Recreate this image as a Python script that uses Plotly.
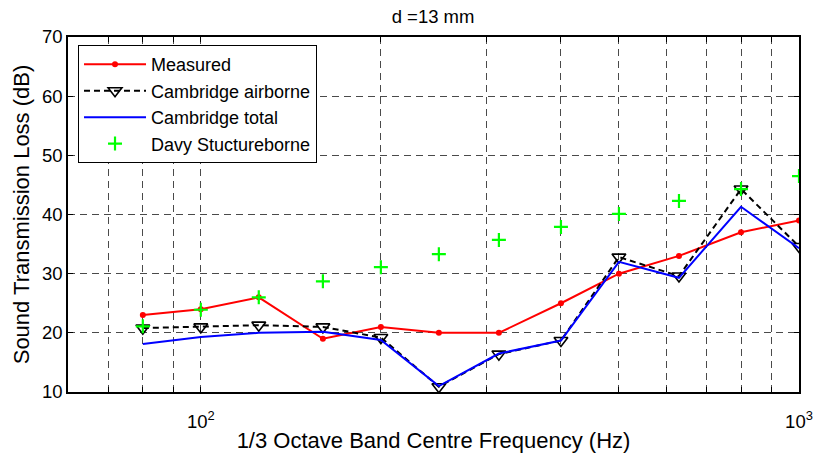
import plotly.graph_objects as go

# 1/3 octave band centre frequencies (Hz)
freq = [80, 100, 125, 160, 200, 250, 315, 400, 500, 630, 800, 1000]

# sound transmission loss (dB)
measured = [23, 24, 26, 19, 21, 20, 20, 25, 30, 33, 37, 39]
cambridge_airborne = [20.8, 21.0, 21.3, 21.0, 19.2, 10.9, 16.4, 18.7, 32.8, 29.6, 44.3, 34.6]
cambridge_total = [18.1, 19.3, 20.0, 20.2, 18.8, 11.0, 16.5, 18.7, 32.0, 29.3, 41.3, 34.3]
davy_structureborne = [21.1, 23.9, 26.0, 28.7, 31.1, 33.3, 35.7, 37.9, 40.1, 42.3, 44.3, 46.5]

names = ["Measured", "Cambridge airborne", "Cambridge total", "Davy Stuctureborne"]

# decade ticks get a label, the rest are minor grid lines
x_major = [100, 1000]
x_major_text = ["10<sup>2</sup>", "10<sup>3</sup>"]
x_minor = [60, 70, 80, 90, 200, 300, 400, 500, 600, 700, 800, 900]

font = "Liberation Sans, Arial, sans-serif"
fs = 18.5
grid_col = "#4a4a4a"
grid_dash = "7px,5px"

fig = go.Figure()

fig.add_trace(go.Scatter(
    x=freq, y=measured, name=names[0], mode="lines+markers",
    line=dict(color="#ff0000", width=2),
    marker=dict(symbol="circle", size=6, color="#ff0000"),
))
fig.add_trace(go.Scatter(
    x=freq, y=cambridge_airborne, name=names[1], mode="lines+markers",
    line=dict(color="black", width=2, dash="6px,4px"),
    marker=dict(symbol="triangle-down-open", size=12, color="black", line=dict(width=1.6)),
))
fig.add_trace(go.Scatter(
    x=freq, y=cambridge_total, name=names[2], mode="lines",
    line=dict(color="#0000ff", width=2),
))
fig.add_trace(go.Scatter(
    x=freq, y=davy_structureborne, name=names[3], mode="markers",
    marker=dict(symbol="cross-thin", size=10, color="#00ff00", line=dict(color="#00ff00", width=2.2)),
))

fig.update_layout(
    width=814, height=459,
    margin=dict(l=68, r=15, t=37, b=67),
    paper_bgcolor="white", plot_bgcolor="white",
    font=dict(family=font, size=fs, color="black"),
    title=dict(text="d =13 mm", x=0.532, xanchor="center", y=0.965, yanchor="middle",
               font=dict(size=fs)),
    legend=dict(
        x=0.0137, y=0.977, xanchor="left", yanchor="top",
        bordercolor="black", borderwidth=1, bgcolor="white",
        font=dict(size=18), itemwidth=62, tracegroupgap=0,
    ),
)

fig.update_xaxes(
    type="log", range=[1.778, 3], automargin=False,
    tickvals=x_major, ticktext=x_major_text,
    ticks="inside", ticklen=5, tickcolor="black", ticklabelstandoff=12,
    minor=dict(tickvals=x_minor, ticks="inside", ticklen=5, tickcolor="black",
               showgrid=True, gridcolor=grid_col, griddash=grid_dash, gridwidth=1),
    showline=True, linecolor="black", linewidth=1.5, mirror="ticks",
    showgrid=True, gridcolor=grid_col, griddash=grid_dash, gridwidth=1,
    zeroline=False,
    title=dict(text="1/3 Octave Band Centre Frequency (Hz)", standoff=2),
)
fig.update_yaxes(
    range=[10, 70], dtick=10, automargin=False,
    ticks="inside", ticklen=5, tickcolor="black",
    showline=True, linecolor="black", linewidth=1.5, mirror="ticks",
    showgrid=True, gridcolor=grid_col, griddash=grid_dash, gridwidth=1,
    zeroline=False,
    title=dict(text="Sound Transmission Loss (dB)", standoff=6),
)

# page body has a default 8px margin, drop it so the figure sits at 0,0
fig.write_html("out.html", config={"displayModeBar": False},
               post_script="document.body.style.margin='0';")
